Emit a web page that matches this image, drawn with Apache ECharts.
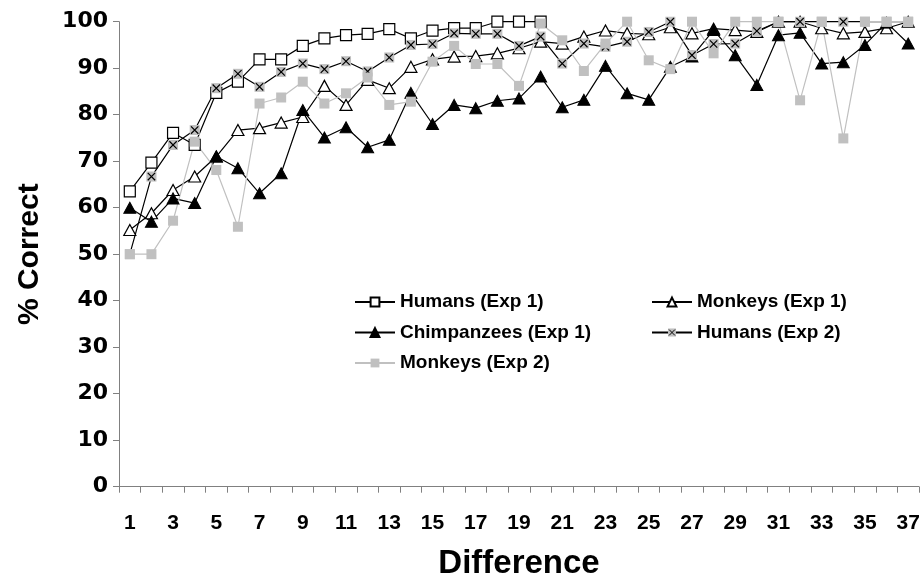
<!DOCTYPE html>
<html>
<head>
<meta charset="utf-8">
<script src="https://cdn.jsdelivr.net/npm/echarts@6/dist/echarts.min.js"></script>
<style>html,body{margin:0;padding:0;background:#fff;}#c{width:923px;height:581px;}</style>
</head>
<body>
<div id="c"></div>
<script>
var categories = ['1','2','3','4','5','6','7','8','9','10','11','12','13','14','15','16','17','18','19','20','21','22','23','24','25','26','27','28','29','30','31','32','33','34','35','36','37'];
var yTicks = [0,10,20,30,40,50,60,70,80,90,100];
var humansExp1 = [63.5, 69.7, 76.1, 73.5, 84.7, 87.1, 91.9, 91.9, 94.8, 96.4, 97.1, 97.4, 98.4, 96.4, 98.1, 98.6, 98.6, 100, 100, 100];
var monkeysExp1 = [55.2, 58.8, 63.8, 66.7, 71, 76.7, 77.1, 78.3, 79.5, 86.2, 82.1, 87.5, 85.7, 90.3, 91.9, 92.5, 92.6, 93.2, 94.3, 95.7, 95.3, 96.8, 98.1, 97.5, 97.3, 98.8, 97.5, 98.5, 98.2, 97.8, 100, 100, 98.6, 97.5, 97.8, 98.6, 100];
var chimpExp1 = [60, 57, 62, 61, 71, 68.5, 63.1, 67.4, 81, 75.1, 77.3, 73, 74.6, 84.7, 78, 82.1, 81.4, 83, 83.5, 88.2, 81.6, 83.2, 90.5, 84.6, 83.2, 90.3, 92.5, 98.2, 92.8, 86.4, 97.1, 97.6, 91, 91.3, 95, 99.8, 95.3];
var humansExp2 = [50, 66.7, 73.5, 76.7, 85.7, 88.8, 86, 89.2, 91, 89.8, 91.5, 89.3, 92.3, 95, 95.2, 97.5, 97.4, 97.4, 94.8, 96.8, 91, 95.3, 94.6, 95.7, 97.8, 100, 92.8, 95.2, 95.3, 98, 100, 100, 100, 100, 100, 100, 100];
var monkeysExp2 = [50, 50, 57.2, 74.2, 68.1, 55.9, 82.4, 83.7, 87.1, 82.4, 84.6, 88, 82.1, 82.8, 91.4, 94.8, 90.9, 90.9, 86.2, 99.6, 96, 89.4, 95.3, 100, 91.7, 89.8, 100, 93.2, 100, 100, 100, 83.1, 100, 74.9, 100, 100, 100];
var seriesNames = ['Humans (Exp 1)', 'Monkeys (Exp 1)', 'Chimpanzees (Exp 1)', 'Humans (Exp 2)', 'Monkeys (Exp 2)'];

var xSvg = '<svg xmlns="http://www.w3.org/2000/svg" width="24" height="24" viewBox="0 0 24 24"><rect x="1" y="1" width="22" height="22" fill="#c0c0c0"/><path d="M4 4L20 20M20 4L4 20" stroke="#000" stroke-width="2.6" fill="none"/></svg>';
var xSymbol = 'image://data:image/svg+xml;charset=utf-8,' + encodeURIComponent(xSvg);

var FONT = '"Liberation Sans", Arial, sans-serif';
var WIDE = '"DejaVu Sans", "Liberation Sans", sans-serif';

var chart = echarts.init(document.getElementById('c'), null, {renderer: 'canvas'});
var legendText = {fontFamily: FONT, fontWeight: 'bold', fontSize: 19, color: '#000', lineHeight: 20};
chart.setOption({
  animation: false,
  backgroundColor: '#fff',
  grid: {left: 119, right: 4, top: 21.7, bottom: 94.3, containLabel: false, outerBoundsMode: 'none'},
  legend: [
    {data: [seriesNames[0], seriesNames[2], seriesNames[4]], orient: 'vertical', left: 349, top: 287, itemWidth: 40, itemHeight: 11, itemGap: 10.5, textStyle: legendText, selectedMode: false},
    {data: [seriesNames[1], seriesNames[3]], orient: 'vertical', left: 646, top: 287, itemWidth: 40, itemHeight: 11, itemGap: 10.5, textStyle: legendText, selectedMode: false}
  ],
  xAxis: {
    type: 'category', data: categories, boundaryGap: true,
    name: 'Difference', nameLocation: 'middle', nameGap: 61,
    nameTextStyle: {fontFamily: FONT, fontWeight: 'bold', fontSize: 33, color: '#000'},
    axisLine: {lineStyle: {color: '#808080', width: 1}},
    axisTick: {show: true, interval: 0, length: 6, lineStyle: {color: '#808080'}},
    axisLabel: {interval: 1, margin: 26, fontFamily: FONT, fontWeight: 'bold', fontSize: 21, color: '#000'},
    splitLine: {show: false}
  },
  yAxis: {
    type: 'value', min: yTicks[0], max: yTicks[yTicks.length-1], interval: 10,
    name: '% Correct', nameLocation: 'middle', nameGap: 74, nameRotate: 90,
    nameTextStyle: {fontFamily: FONT, fontWeight: 'bold', fontSize: 30, color: '#000'},
    axisLine: {show: true, lineStyle: {color: '#808080', width: 1}},
    axisTick: {show: true, length: 6, lineStyle: {color: '#808080'}},
    axisLabel: {margin: 11, fontFamily: WIDE, fontWeight: 'bold', fontSize: 22, color: '#000'},
    splitLine: {show: false}
  },
  series: [
    {name: seriesNames[0], type: 'line', data: humansExp1, symbol: 'rect', symbolSize: 11,
     lineStyle: {color: '#000', width: 1.2}, itemStyle: {color: '#fff', borderColor: '#000', borderWidth: 1.2}},
    {name: seriesNames[1], type: 'line', data: monkeysExp1, symbol: 'triangle', symbolSize: [12, 11],
     lineStyle: {color: '#000', width: 1.2}, itemStyle: {color: '#fff', borderColor: '#000', borderWidth: 1.2}},
    {name: seriesNames[2], type: 'line', data: chimpExp1, symbol: 'triangle', symbolSize: [12, 11],
     lineStyle: {color: '#000', width: 1.2}, itemStyle: {color: '#000', borderColor: '#000', borderWidth: 1}},
    {name: seriesNames[3], type: 'line', data: humansExp2, symbol: xSymbol, symbolSize: 11,
     lineStyle: {color: '#000', width: 1.2}, itemStyle: {color: '#000'}},
    {name: seriesNames[4], type: 'line', data: monkeysExp2, symbol: 'rect', symbolSize: 10,
     lineStyle: {color: '#c0c0c0', width: 1.2}, itemStyle: {color: '#c0c0c0', borderWidth: 0}}
  ]
});
</script>
</body>
</html>
